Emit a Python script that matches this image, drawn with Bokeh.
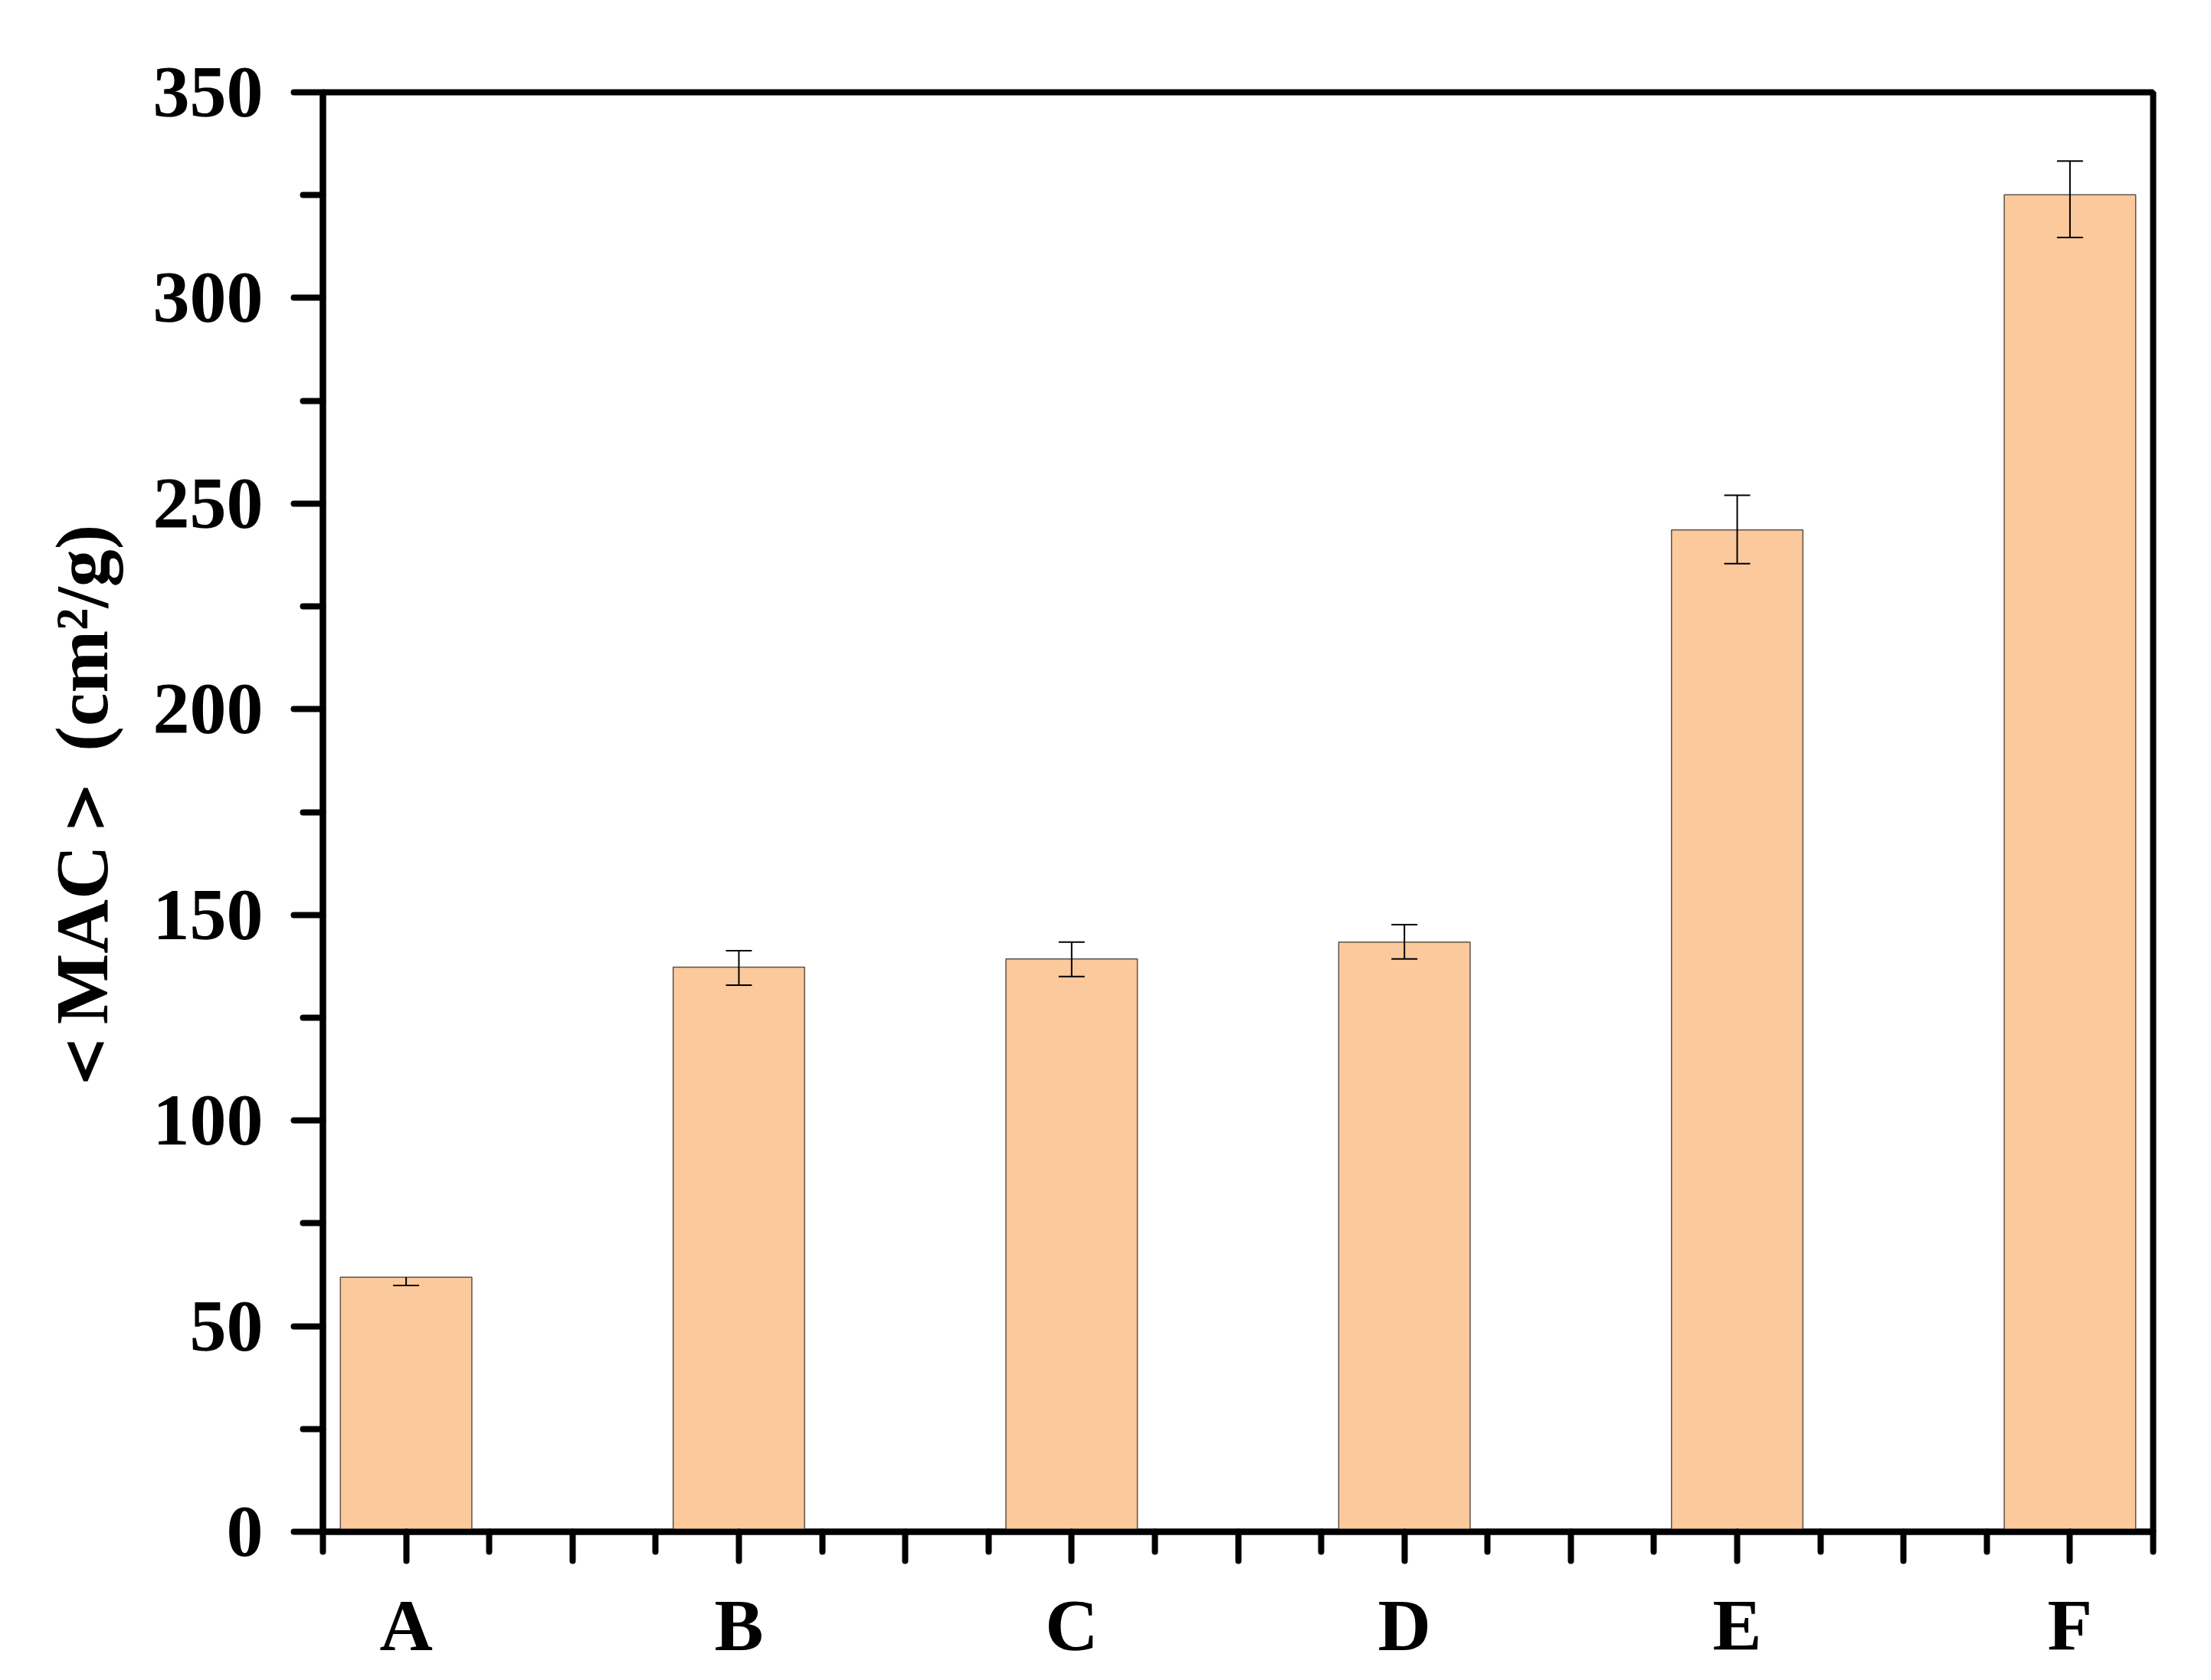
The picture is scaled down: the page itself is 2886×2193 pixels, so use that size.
from bokeh.plotting import figure
from bokeh.models import FixedTicker, Range1d, CustomJSTickFormatter
from bokeh.embed import file_html
from bokeh.resources import INLINE

# ---- data ----
categories = ["A", "B", "C", "D", "E", "F"]
mac_values = [61.9, 137.3, 139.3, 143.4, 243.6, 325.1]
err_plus = [0.0, 4.0, 4.1, 4.2, 8.4, 8.2]
err_minus = [2.0, 4.4, 4.3, 4.1, 8.2, 10.4]
y_major_ticks = [0, 50, 100, 150, 200, 250, 300, 350]
y_minor_ticks = [25, 75, 125, 175, 225, 275, 325]
x_major_ticks = [1, 1.5, 2, 2.5, 3, 3.5, 4, 4.5, 5, 5.5, 6]
x_minor_ticks = [0.75, 1.25, 1.75, 2.25, 2.75, 3.25, 3.75, 4.25, 4.75, 5.25, 5.75, 6.25]
y_label = "\uFF1CMAC\uFF1E (cm\u00b2/g)"

positions = [i + 1 for i in range(len(categories))]
lower = [v - m for v, m in zip(mac_values, err_minus)]
upper = [v + e for v, e in zip(mac_values, err_plus)]

FONT = "Liberation Serif"
BAR_W = 0.395
CAP_HALF = 0.039

p = figure(
    frame_width=2389, frame_height=1879,
    min_border_left=421, min_border_right=68, min_border_top=120, min_border_bottom=186,
    x_range=Range1d(0.75, 6.25), y_range=Range1d(0, 350),
    output_backend="svg", toolbar_location=None,
    background_fill_color="white", border_fill_color="white",
)

p.vbar(x=positions, top=mac_values, bottom=0, width=BAR_W,
       fill_color="#FBC99B", line_color="#5e5248", line_width=1.5)

# error bars
p.segment(x0=positions, y0=lower, x1=positions, y1=upper,
          line_color="black", line_width=2)
p.segment(x0=[x - CAP_HALF for x in positions], y0=lower,
          x1=[x + CAP_HALF for x in positions], y1=lower,
          line_color="black", line_width=2)
up_idx = [i for i, e in enumerate(err_plus) if e > 0]
p.segment(x0=[positions[i] - CAP_HALF for i in up_idx], y0=[upper[i] for i in up_idx],
          x1=[positions[i] + CAP_HALF for i in up_idx], y1=[upper[i] for i in up_idx],
          line_color="black", line_width=2)

p.xgrid.visible = False
p.ygrid.visible = False
p.outline_line_color = "black"
p.outline_line_width = 8
p.outline_line_alpha = 1.0

p.xaxis.ticker = FixedTicker(ticks=x_major_ticks, minor_ticks=x_minor_ticks)
p.xaxis.formatter = CustomJSTickFormatter(
    args=dict(labels=categories),
    code="const i = Math.round(tick); return Math.abs(tick - i) < 1e-6 ? labels[i - 1] : '';",
)
p.yaxis.ticker = FixedTicker(ticks=y_major_ticks, minor_ticks=y_minor_ticks)

for ax in (p.xaxis[0], p.yaxis[0]):
    ax.axis_line_width = 8
    ax.axis_line_color = "black"
    ax.major_tick_line_width = 8
    ax.minor_tick_line_width = 8
    ax.major_tick_line_color = "black"
    ax.minor_tick_line_color = "black"
    ax.major_tick_line_cap = "round"
    ax.minor_tick_line_cap = "round"
    ax.major_tick_in = 0
    ax.minor_tick_in = 0
    ax.major_tick_out = 38
    ax.minor_tick_out = 26
    ax.major_label_text_font = FONT
    ax.major_label_text_font_style = "bold"
    ax.major_label_text_font_size = "96px"
    ax.major_label_text_color = "black"

p.yaxis.major_label_standoff = 40
p.xaxis.major_label_standoff = 30

p.yaxis.axis_label = y_label
p.yaxis.axis_label_standoff = 36
p.yaxis.axis_label_text_font = FONT
p.yaxis.axis_label_text_font_style = "bold"
p.yaxis.axis_label_text_font_size = "98px"
p.yaxis.axis_label_text_color = "black"

open("out.html", "w").write(file_html(p, INLINE))
